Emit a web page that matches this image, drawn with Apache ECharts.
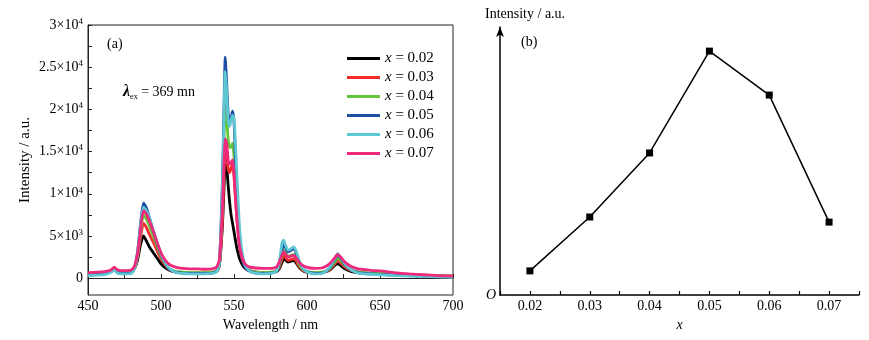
<!DOCTYPE html>
<html>
<head>
<meta charset="utf-8">
<script src="https://cdn.jsdelivr.net/npm/echarts@6/dist/echarts.min.js"></script>
<style>html,body{margin:0;padding:0;background:#fff}#c{width:869px;height:340px}</style>
</head>
<body>
<div id="c"></div>
<script>
// ---------- data ----------
const wavelength = [450,456,462,466,468,470,473,477,480,482,
 484,486,488,490,492,494,496,498,500,503,
 506,510,515,520,525,530,535,538,540,542,
 543,544,545,546,547,548,549,550,551,552,
 553,554,556,558,561,565,570,575,579,581,
 583,584,585,587,589,591,593,595,598,602,
 606,610,613,616,619,621,623,626,630,635,
 640,645,650,660,670,680,690,700];

const seriesNames = ['0.02','0.03','0.04','0.05','0.06','0.07'];

const int002 = [500,550,650,850,1100,800,700,700,800,1200,
 2200,4000,5000,4400,3700,3200,2700,2200,1700,1200,
 900,750,650,600,600,600,650,800,1500,6000,
 10000,13500,13000,11000,9000,7500,6500,5500,4500,3500,
 2800,2200,1500,1100,850,700,650,650,750,1100,
 1900,2300,2200,1900,2000,2100,1700,1200,800,650,
 600,650,750,1000,1500,1700,1500,1100,800,650,
 600,550,500,400,350,300,250,200];

const int003 = [450,500,600,800,1100,750,650,650,750,1200,
 2500,4800,6500,6000,5200,4500,3800,3000,2300,1500,
 1000,750,650,600,600,600,650,800,1500,6500,
 11500,15500,14500,13000,12500,13000,13500,12000,9500,7000,
 5000,3500,2000,1300,900,700,650,650,800,1300,
 2300,2700,2500,2100,2200,2300,1900,1300,850,650,
 600,650,800,1100,1700,2100,1800,1300,900,700,
 600,550,500,400,350,300,250,200];

const int004 = [500,550,650,850,1150,800,700,700,800,1300,
 2800,5500,7500,7000,6200,5300,4400,3500,2600,1700,
 1100,800,700,650,650,650,700,850,1700,8500,
 15000,20500,19000,16500,15500,15500,16000,14500,11000,8000,
 5500,3800,2100,1300,900,700,650,700,850,1500,
 2800,3300,3100,2600,2700,2800,2300,1500,950,700,
 650,700,850,1200,1900,2400,2100,1500,1000,750,
 650,600,550,450,400,350,300,250];

const int005 = [400,450,550,800,1100,700,600,600,700,1300,
 3200,6500,8900,8300,7200,6000,4900,3800,2800,1700,
 1000,700,600,550,550,550,600,800,1800,11000,
 19000,26200,23000,19500,18500,19000,19800,18500,14000,9500,
 6000,3800,2000,1200,800,600,550,600,800,1700,
 3400,4000,3700,3100,3300,3500,2800,1800,1000,650,
 550,600,800,1300,2200,2800,2400,1600,1000,650,
 550,500,450,350,300,250,200,150];

const int006 = [300,350,450,700,1000,600,500,500,600,1200,
 3000,6300,8400,8000,7200,6100,5000,3900,2900,1800,
 1100,700,550,500,500,500,550,750,1700,10500,
 18000,24500,22000,18500,18000,18800,19300,19000,16000,12000,
 8500,5500,2600,1400,800,550,500,550,800,1900,
 4300,4500,4000,3300,3500,3700,3000,1900,1000,600,
 500,550,800,1400,2300,2900,2500,1700,1000,600,
 500,450,400,300,250,200,150,100];

const int007 = [650,700,800,1000,1300,1000,900,900,1000,1500,
 3000,5800,8000,7600,6800,5900,4900,3900,3000,2100,
 1600,1300,1150,1100,1100,1050,1100,1300,2200,8000,
 13000,16500,16000,14000,13500,13700,14000,12500,9500,7000,
 5000,3600,2200,1600,1300,1200,1150,1150,1300,1900,
 2800,3100,2900,2500,2600,2700,2300,1800,1400,1200,
 1150,1200,1400,1800,2400,2800,2500,1900,1400,1100,
 1000,900,850,650,500,400,300,250];

const yTickValues = [0,5000,10000,15000,20000,25000,30000];
const yMinorTickValues = [0,2500,5000,7500,10000,12500,15000,17500,20000,22500,25000,27500,30000];

// panel (b)
const xConc = [0.02,0.03,0.04,0.05,0.06,0.07];
const relIntensity = [9.0,29.1,53.0,91.0,74.6,27.2];

// ---------- styling ----------
const colors = ['#000000','#f52a2a','#66c43a','#1d4fa6','#5ec8d2','#ef2a7c'];
const FONT = "'Liberation Serif','Times New Roman',serif";
const AX = '#222';

const spectra = [int002,int003,int004,int005,int006,int007];

const chart = echarts.init(document.getElementById('c'), null, {renderer:'canvas'});

function supLabel(v){
  if (v === 0) return '{b|0}';
  let m, e;
  if (v < 10000) { m = v/1000; e = 3; } else { m = v/10000; e = 4; }
  return '{b|' + m + '×10}{s|' + e + '}';
}

const option = {
  animation: false,
  backgroundColor: '#fff',
  textStyle: {fontFamily: FONT},
  grid: [
    {left: 88, top: 25, width: 365, height: 270, show: true, borderColor: AX, borderWidth: 1, backgroundColor: 'transparent'},
    {left: 500, top: 27, width: 359, height: 268}
  ],
  legend: {
    data: seriesNames,
    orient: 'vertical',
    left: 342, top: 46,
    icon: 'rect',
    itemWidth: 33, itemHeight: 3, itemGap: 4,
    formatter: n => '{i|x} = ' + n,
    textStyle: {fontFamily: FONT, fontSize: 15, lineHeight: 15, color: '#000',
      rich: {i: {fontFamily: FONT, fontSize: 15, fontStyle: 'italic', color: '#000'}}}
  },
  xAxis: [
    {gridIndex: 0, type: 'value', min: 450, max: 700, interval: 25,
     name: 'Wavelength / nm', nameLocation: 'middle', nameGap: 20,
     nameTextStyle: {fontFamily: FONT, fontSize: 14, color: '#000'},
     axisLine: {show: true, lineStyle: {color: AX, width: 1}},
     axisTick: {show: true, inside: true, length: 4, lineStyle: {color: AX}},
     axisLabel: {margin: 4, fontFamily: FONT, fontSize: 14, color: '#000',
       formatter: v => (Math.round(v) % 50 === 0 ? String(Math.round(v)) : '')},
     splitLine: {show: false}},
    {gridIndex: 1, type: 'value', min: 0.015, max: 0.075, interval: 0.005,
     name: 'x', nameLocation: 'middle', nameGap: 19,
     nameTextStyle: {fontFamily: FONT, fontSize: 14, fontStyle: 'italic', color: '#000'},
     axisLine: {show: true, lineStyle: {color: '#000', width: 1.5}},
     axisTick: {show: true, inside: true, length: 4, lineStyle: {color: '#000', width: 1.2}},
     axisLabel: {margin: 4, fontFamily: FONT, fontSize: 14, color: '#000',
       formatter: v => { const k = Math.round(v*1000); return (k % 10 === 0 && k >= 20) ? (k/1000).toFixed(2) : ''; }},
     splitLine: {show: false}}
  ],
  yAxis: [
    {gridIndex: 0, type: 'value', min: -2000, max: 30000,
     name: 'Intensity / a.u.', nameLocation: 'middle', nameGap: 55,
     nameTextStyle: {fontFamily: FONT, fontSize: 15, color: '#000'},
     axisLine: {show: true, lineStyle: {color: AX, width: 1}},
     axisTick: {show: true, inside: true, length: 4, customValues: yMinorTickValues, lineStyle: {color: AX}},
     axisLabel: {margin: 5, customValues: yTickValues, formatter: supLabel, color: '#000',
       rich: {
         b: {fontFamily: FONT, fontSize: 14, lineHeight: 16, color: '#000'},
         s: {fontFamily: FONT, fontSize: 9, lineHeight: 10, verticalAlign: 'top', color: '#000'}
       }},
     splitLine: {show: false}},
    {gridIndex: 1, type: 'value', min: 0, max: 100, interval: 100,
     axisLine: {show: true, symbol: ['none','arrow'], symbolSize: [6, 10], lineStyle: {color: '#000', width: 1.5}},
     axisTick: {show: false},
     axisLabel: {margin: 4, fontFamily: FONT, fontSize: 14, fontStyle: 'italic', color: '#000',
       formatter: v => (v === 0 ? 'O' : '')},
     splitLine: {show: false}}
  ],
  graphic: [
    {type: 'text', left: 107, top: 37, style: {text: '(a)', font: '14px ' + FONT, fill: '#000'}},
    {type: 'text', left: 123, top: 84, style: {
      text: '{l|λ}{s|ex}{t| = 369 mn}',
      rich: {
        l: {fontFamily: FONT, fontSize: 16, fontStyle: 'italic', fontWeight: 'bold', lineHeight: 18, fill: '#000'},
        s: {fontFamily: FONT, fontSize: 8, lineHeight: 6, verticalAlign: 'bottom', fill: '#000'},
        t: {fontFamily: FONT, fontSize: 14, lineHeight: 18, fill: '#000'}
      }}},
    {type: 'text', left: 521, top: 35, style: {text: '(b)', font: '14px ' + FONT, fill: '#000'}},
    {type: 'text', left: 485, top: 7, style: {text: 'Intensity / a.u.', font: '14px ' + FONT, fill: '#000'}}
  ],
  series: spectra.map((arr, k) => ({
    name: seriesNames[k],
    type: 'line',
    xAxisIndex: 0, yAxisIndex: 0,
    showSymbol: false,
    smooth: 0.2,
    color: colors[k],
    lineStyle: {width: 2.8, color: colors[k]},
    data: wavelength.map((w, i) => [w, arr[i]])
  })).concat([{
    name: 'b',
    type: 'line',
    xAxisIndex: 1, yAxisIndex: 1,
    symbol: 'rect', symbolSize: 7,
    itemStyle: {color: '#000'},
    lineStyle: {color: '#000', width: 1.5},
    data: xConc.map((x, i) => [x, relIntensity[i]])
  }])
};
chart.setOption(option);
</script>
</body>
</html>
